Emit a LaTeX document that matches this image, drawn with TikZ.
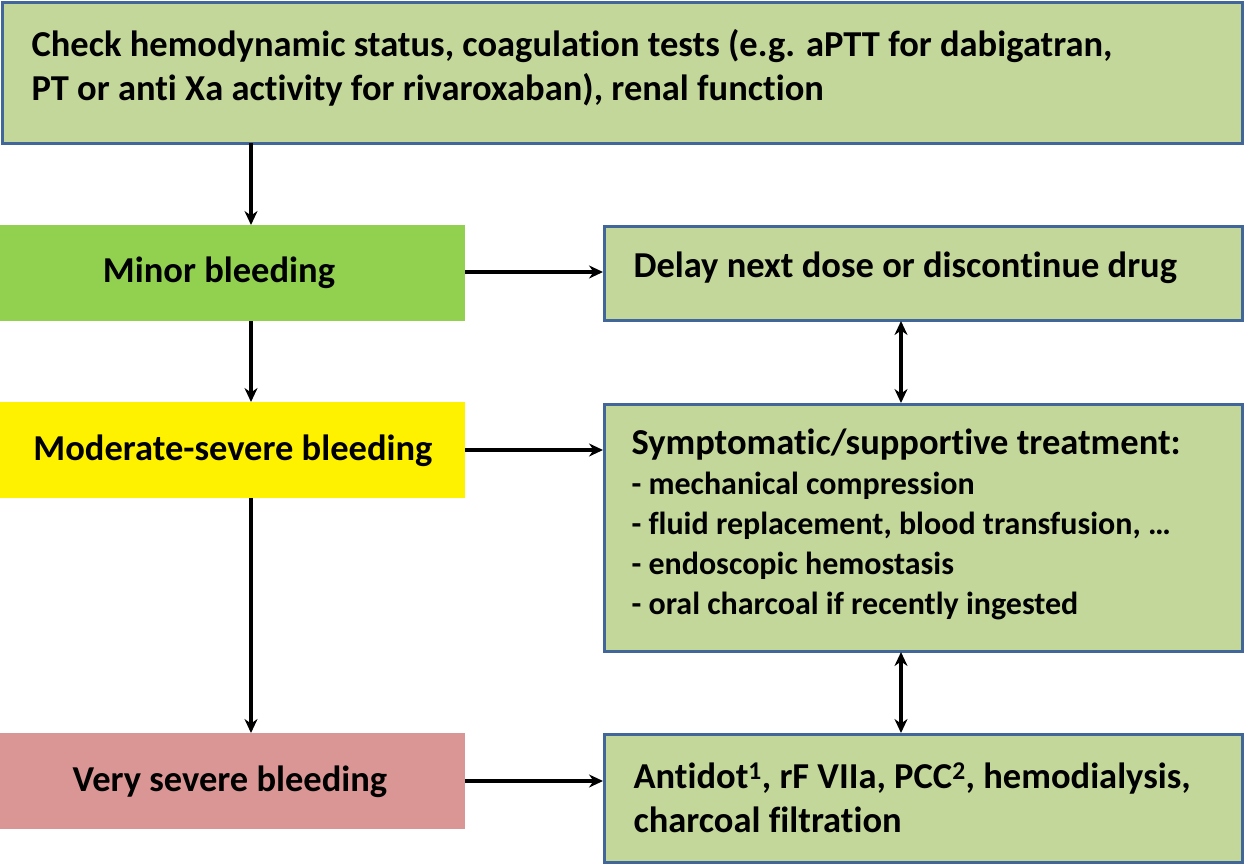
\documentclass[tikz,border=0pt]{standalone}
\usepackage{fontspec}
\setmainfont[Ligatures={NoCommon}]{Carlito}
\usetikzlibrary{arrows.meta}
\definecolor{boxg}{HTML}{C4D79B}
\definecolor{bord}{HTML}{41669A}
\definecolor{minor}{HTML}{92D050}
\definecolor{vsev}{HTML}{DA9694}
\begin{document}
\begin{tikzpicture}[x=1pt,y=-1pt,
  gbox/.style={draw=bord,line width=3pt,fill=boxg},
  txt/.style={font=\fontsize{36.5}{44}\selectfont\bfseries,align=left,anchor=west},
  lab/.style={font=\fontsize{36.5}{44}\selectfont\bfseries},
  arr/.style={line width=3.5pt,-{Stealth[length=14pt,width=13pt]}},
  darr/.style={line width=3.5pt,{Stealth[length=14pt,width=13pt]}-{Stealth[length=14pt,width=13pt]}}]
\useasboundingbox (0,0) rectangle (1244,865);
\draw[gbox] (2,2) rectangle (1242,143);
\node[txt] (toptxt) at (28,68) {Check hemodynamic status, coagulation tests (e.g. aPTT for dabigatran,\\PT or anti Xa activity for rivaroxaban), renal function};
\fill[minor] (0,225) rectangle (465,321);
\node[lab] (minor) at (219,273) {Minor bleeding};
\fill[yellow] (0,402) rectangle (465,498);
\node[lab] (mod) at (233,451) {Moderate-severe bleeding};
\fill[vsev] (0,733) rectangle (465,829);
\node[lab] (vs) at (230,782) {Very severe bleeding};
\draw[gbox] (604,226) rectangle (1242,320);
\node[txt] (delay) at (630,268) {Delay next dose or discontinue drug};
\draw[gbox] (604,404) rectangle (1242,651);
\node[anchor=north west,align=left,font=\fontsize{32}{40}\selectfont\bfseries] (sym) at (628,425) {{\fontsize{36.5}{40}\selectfont Symptomatic/supportive treatment:}\\- mechanical compression\\- fluid replacement, blood transfusion, …\\- endoscopic hemostasis\\- oral charcoal if recently ingested};
\draw[gbox] (604,734) rectangle (1242,862);
\node[txt] (anti) at (630,798) {Antidot\textsuperscript{1}, rF VIIa, PCC\textsuperscript{2}, hemodialysis,\\charcoal filtration};
\coordinate (a1) at (251,143); \coordinate (a2) at (251,225);
\coordinate (b1) at (251,321); \coordinate (b2) at (251,402);
\coordinate (c1) at (251,498); \coordinate (c2) at (251,733);
\draw[arr] (a1) -- (a2);
\draw[arr] (b1) -- (b2);
\draw[arr] (c1) -- (c2);
\coordinate (h1) at (465,272); \coordinate (h2) at (603,272);
\coordinate (i1) at (465,450); \coordinate (i2) at (603,450);
\coordinate (j1) at (465,781); \coordinate (j2) at (603,781);
\draw[arr] (h1) -- (h2);
\draw[arr] (i1) -- (i2);
\draw[arr] (j1) -- (j2);
\coordinate (d1) at (901,321); \coordinate (d2) at (901,403);
\coordinate (e1) at (901,652); \coordinate (e2) at (901,733);
\draw[darr] (d1) -- (d2);
\draw[darr] (e1) -- (e2);
\end{tikzpicture}
\end{document}
